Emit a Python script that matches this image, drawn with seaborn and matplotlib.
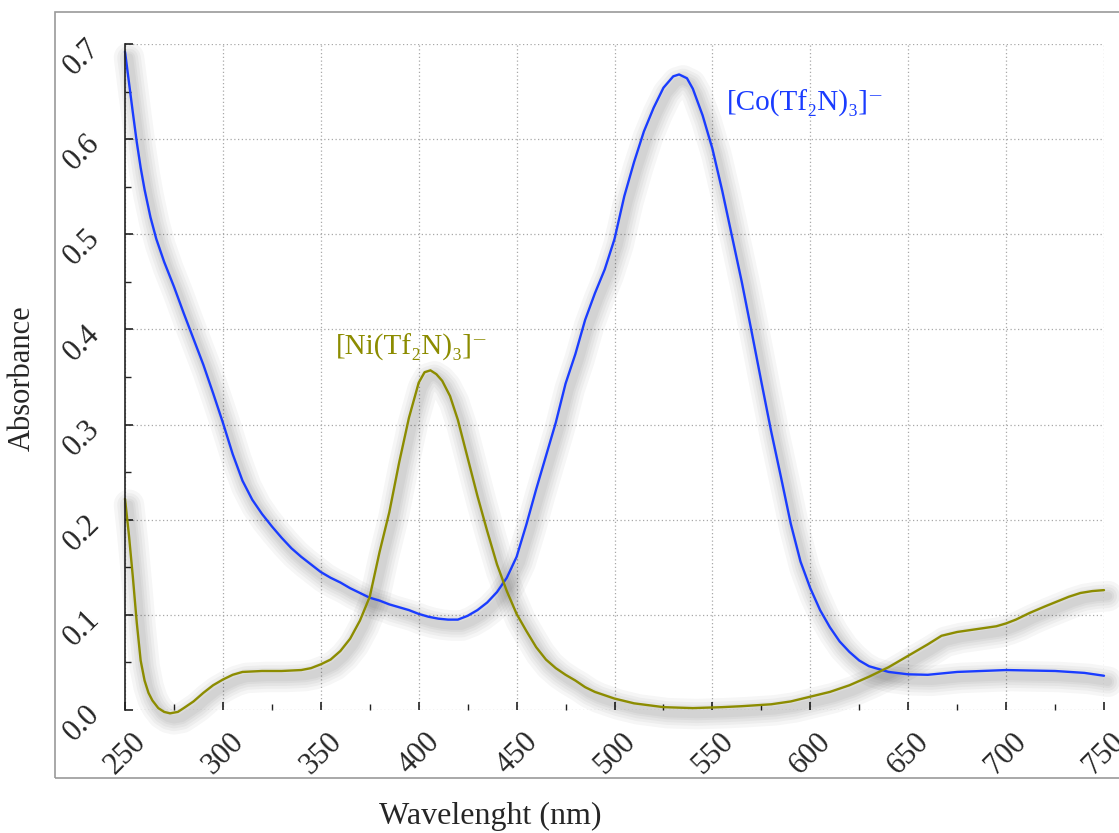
import numpy as np
import pandas as pd
import matplotlib
matplotlib.use("Agg")
import matplotlib.pyplot as plt
import matplotlib.transforms as mtransforms
from matplotlib.patches import Rectangle
from matplotlib.ticker import MultipleLocator
import seaborn as sns

# ---- data ----
co_wavelength = [250, 252, 254, 256, 258, 260, 263, 266, 270, 275, 280, 285, 290, 295, 300, 305,
                 310, 315, 320, 325, 330, 335, 340, 345, 350, 355, 360, 365, 370, 375, 380, 385,
                 390, 395, 400, 405, 410, 415, 420, 425, 430, 435, 440, 445, 450, 455, 460, 465,
                 470, 475, 480, 485, 490, 495, 500, 505, 510, 515, 520, 525, 530, 533, 537, 540,
                 545, 550, 555, 560, 565, 570, 575, 580, 585, 590, 595, 600, 605, 610, 615, 620,
                 625, 630, 640, 650, 660, 675, 700, 725, 740, 750]
co_absorbance = [0.692, 0.660, 0.628, 0.597, 0.570, 0.547, 0.518, 0.495, 0.471, 0.445, 0.417,
                 0.390, 0.363, 0.333, 0.302, 0.269, 0.241, 0.221, 0.206, 0.193, 0.181, 0.170,
                 0.161, 0.153, 0.145, 0.139, 0.134, 0.128, 0.123, 0.118, 0.115, 0.111, 0.108,
                 0.105, 0.101, 0.098, 0.096, 0.095, 0.095, 0.099, 0.105, 0.113, 0.124, 0.139,
                 0.161, 0.195, 0.232, 0.267, 0.302, 0.343, 0.374, 0.410, 0.438, 0.463, 0.495,
                 0.540, 0.576, 0.608, 0.633, 0.654, 0.666, 0.668, 0.664, 0.653, 0.625, 0.590,
                 0.546, 0.498, 0.450, 0.398, 0.345, 0.293, 0.245, 0.196, 0.156, 0.128, 0.105,
                 0.087, 0.072, 0.061, 0.052, 0.046, 0.040, 0.0375, 0.037, 0.040, 0.042, 0.041,
                 0.039, 0.036]

ni_wavelength = [250, 252, 254, 256, 258, 260, 262, 264, 267, 270, 273, 277, 280, 285, 290, 295,
                 300, 305, 310, 320, 330, 340, 345, 350, 355, 360, 365, 370, 375, 380, 385, 390,
                 395, 400, 403, 406, 409, 412, 416, 420, 425, 430, 435, 440, 445, 450, 455, 460,
                 465, 470, 475, 480, 485, 490, 500, 510, 525, 540, 555, 565, 580, 590, 600, 610,
                 620, 630, 640, 650, 660, 667, 675, 685, 695, 700, 705, 712, 720, 726, 732, 738,
                 744, 750]
ni_absorbance = [0.222, 0.184, 0.140, 0.092, 0.052, 0.031, 0.018, 0.010, 0.002, -0.002, -0.0035,
                 -0.002, 0.002, 0.009, 0.018, 0.026, 0.032, 0.037, 0.040, 0.041, 0.041, 0.042,
                 0.044, 0.048, 0.053, 0.062, 0.075, 0.094, 0.119, 0.166, 0.208, 0.260, 0.307,
                 0.344, 0.355, 0.357, 0.353, 0.346, 0.330, 0.305, 0.265, 0.225, 0.188, 0.153,
                 0.125, 0.101, 0.083, 0.066, 0.053, 0.044, 0.037, 0.031, 0.024, 0.019, 0.012,
                 0.007, 0.003, 0.002, 0.003, 0.004, 0.006, 0.009, 0.014, 0.019, 0.026, 0.035,
                 0.045, 0.057, 0.069, 0.078, 0.082, 0.085, 0.088, 0.091, 0.095, 0.102, 0.109,
                 0.114, 0.119, 0.123, 0.125, 0.126]

series_names = ["Co", "Ni"]
series_labels = {"Co": "[Co(Tf\u2082N)\u2083]\u207b", "Ni": "[Ni(Tf\u2082N)\u2083]\u207b"}
series_colors = {"Co": "#1a3cff", "Ni": "#8c8c00"}
x_ticks = [250, 300, 350, 400, 450, 500, 550, 600, 650, 700, 750]
y_ticks = [0.0, 0.1, 0.2, 0.3, 0.4, 0.5, 0.6, 0.7]

df = pd.concat([
    pd.DataFrame({"Wavelength": co_wavelength, "Absorbance": co_absorbance, "Complex": "Co"}),
    pd.DataFrame({"Wavelength": ni_wavelength, "Absorbance": ni_absorbance, "Complex": "Ni"}),
], ignore_index=True)

sns.set_theme(style="white")
FAM = ["Liberation Serif", "DejaVu Serif"]
plt.rcParams["font.family"] = FAM

fig = plt.figure(figsize=(11.19, 8.33), dpi=100)
# outer frame
fig.patches.append(Rectangle((55 / 1119, 1 - 778 / 833), 1.2, (778 - 12) / 833,
                             transform=fig.transFigure, fill=False, edgecolor="#9a9a9a",
                             linewidth=1.2, zorder=0))
ax = fig.add_axes([125 / 1119, 1 - 710 / 833, (1104 - 125) / 1119, (710 - 44) / 833])
ax.set_facecolor("none")

# soft drop shadows under the curves
shadow_tr = mtransforms.offset_copy(ax.transData, fig=fig, x=4, y=-6, units="dots")
for w in [22, 17, 13, 9, 6]:
    sns.lineplot(data=df, x="Wavelength", y="Absorbance", units="Complex", estimator=None,
                 color="black", alpha=0.034, linewidth=w, ax=ax, legend=False, transform=shadow_tr,
                 solid_capstyle="round", solid_joinstyle="round", sort=False, clip_on=False)

sns.lineplot(data=df, x="Wavelength", y="Absorbance", hue="Complex", palette=series_colors,
             hue_order=series_names, estimator=None, linewidth=1.7, ax=ax, legend=False,
             sort=False, clip_on=False)

ax.set_xlim(250, 750)
ax.set_ylim(0, 0.7)
ax.set_xticks(x_ticks)
ax.set_yticks(y_ticks)
ax.xaxis.set_minor_locator(MultipleLocator(25))
ax.yaxis.set_minor_locator(MultipleLocator(0.05))
ax.grid(True, which="major", linestyle=(0, (1, 2)), color="#a8a8a8", linewidth=0.9)
for s in ["top", "right", "bottom"]:
    ax.spines[s].set_visible(False)
ax.spines["left"].set_color("#222222")
ax.spines["left"].set_linewidth(1.2)
ax.tick_params(axis="both", which="major", direction="in", length=6, width=1.2, color="#222222",
               labelsize=22, bottom=True, left=True)
ax.tick_params(axis="x", which="major", pad=8)
ax.tick_params(axis="y", which="major", pad=21)
ax.tick_params(axis="both", which="minor", direction="in", length=4, width=1.0, color="#222222",
               bottom=True, left=True)
ax.set_xticklabels([str(t) for t in x_ticks], rotation=45, ha="right", va="top",
                   rotation_mode="anchor")
ax.set_yticklabels([f"{t:.1f}" for t in y_ticks], rotation=45, ha="right", va="center",
                   rotation_mode="anchor")
for lab in ax.get_xticklabels():
    lab.set_transform(lab.get_transform() + mtransforms.ScaledTranslation(6 / 100, -6 / 100, fig.dpi_scale_trans))

ax.set_xlabel("")
ax.set_ylabel("")
fig.text(490 / 1119, 1 - 816 / 833, "Wavelenght (nm)", ha="center", va="center", fontsize=23)
fig.text(22 / 1119, 1 - 378 / 833, "Absorbance", ha="center", va="center", rotation=90, fontsize=22)

ax.text(727 / 1119, 1 - 103 / 833, series_labels["Co"], transform=fig.transFigure,
        ha="left", va="center", fontsize=21, color=series_colors["Co"], family=FAM)
ax.text(336 / 1119, 1 - 347 / 833, series_labels["Ni"], transform=fig.transFigure,
        ha="left", va="center", fontsize=21, color=series_colors["Ni"], family=FAM)

fig.savefig("out.png", dpi=100)
